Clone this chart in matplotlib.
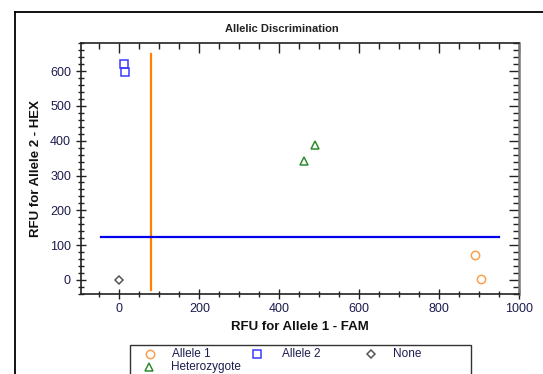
import numpy as np
import matplotlib
matplotlib.use("Agg")
import matplotlib.pyplot as plt
from matplotlib.lines import Line2D
from matplotlib.patches import Rectangle
from matplotlib.ticker import MultipleLocator

plt.rcParams['font.family'] = ['Liberation Sans', 'DejaVu Sans']

# calls
allele1_x = [890, 905]
allele1_y = [70, 3]
allele2_x = [12, 13]
allele2_y = [620, 598]
het_x = [463, 489]
het_y = [343, 388]
none_x = [0]
none_y = [0]

# threshold lines
thr_fam = 78
thr_hex = 122
hline_x = [-45, 950]
vline_y = [-28, 650]

legend_labels = ["Allele 1", "Allele 2", "None", "Heterozygote"]

c_a1 = '#f8a050'
c_a2 = '#3a3aff'
c_none = '#555555'
c_het = '#2e8b2e'
txt = '#1c1c50'

W, H = 543, 374
fig = plt.figure(figsize=(W/100, H/100), dpi=100)
ax = fig.add_axes([80.7/W, 1-293.7/H, (519-80.7)/W, (293.7-42.7)/H])

def fx(px):
    return px / W

def fy(py):
    return 1 - py / H

# outer frame (top and left edges visible)
fig.add_artist(Line2D([fx(15), 1.0], [fy(12), fy(12)], color='black', lw=1.3))
fig.add_artist(Line2D([fx(15), fx(15)], [fy(12), 0], color='black', lw=1.3))

ax.plot([thr_fam, thr_fam], vline_y, color='#ff8000', lw=1.6, zorder=2)
ax.plot(hline_x, [thr_hex, thr_hex], color='#0000ee', lw=1.6, zorder=2)

ms = 6
ax.plot(allele1_x, allele1_y, 'o', ms=ms, mfc='none', mec=c_a1, mew=1.1, ls='none')
ax.plot(allele2_x, allele2_y, 's', ms=ms, mfc='none', mec=c_a2, mew=1.1, ls='none')
ax.plot(het_x, het_y, '^', ms=ms, mfc='none', mec=c_het, mew=1.1, ls='none')
ax.plot(none_x, none_y, 'D', ms=4.5, mfc='none', mec=c_none, mew=1.1, ls='none')

ax.set_xlim(-97, 1000)
ax.set_ylim(-40, 682)
ax.xaxis.set_major_locator(MultipleLocator(200))
ax.xaxis.set_minor_locator(MultipleLocator(50))
ax.yaxis.set_major_locator(MultipleLocator(100))
ax.yaxis.set_minor_locator(MultipleLocator(20))

ax.tick_params(which='both', direction='inout', top=True, right=True,
               labelsize=9, labelcolor=txt, color='#222222')
ax.tick_params(which='major', length=7, width=1)
ax.tick_params(which='minor', length=4, width=1)
# top and right ticks point inward only
for t in ax.xaxis.get_major_ticks() + ax.xaxis.get_minor_ticks():
    t.tick2line.set_marker(3)
for t in ax.yaxis.get_major_ticks() + ax.yaxis.get_minor_ticks():
    t.tick2line.set_marker(0)
for s in ax.spines.values():
    s.set_linewidth(1.2)
    s.set_color('#222222')
ax.spines['right'].set_color('#777777')
ax.spines['right'].set_linewidth(1.8)

ax.set_xlabel("RFU for Allele 1 - FAM", fontsize=9.5, fontweight='bold', color='#111111', labelpad=4)
ax.set_ylabel("RFU for Allele 2 - HEX", fontsize=9.5, fontweight='bold', color='#111111', labelpad=6)
fig.text(fx(282), fy(29), "Allelic Discrimination", fontsize=8, fontweight='bold',
         color='#222222', ha='center', va='center')

# legend box, laid out like the instrument software (runs off the bottom)
fig.add_artist(Rectangle((fx(130), fy(380)), fx(471) - fx(130), fy(345) - fy(380),
                         transform=fig.transFigure, fill=False, ec='#333333', lw=1.0))
leg_items = [
    ('o', 6, c_a1, legend_labels[0], 150, 172, 354),
    ('s', 6, c_a2, legend_labels[1], 257, 282, 354),
    ('D', 4.5, c_none, legend_labels[2], 371, 393, 354),
    ('^', 6, c_het, legend_labels[3], 149, 171, 367),
]
for mk, size, col, lab, mx, tx, ty in leg_items:
    fig.add_artist(Line2D([fx(mx)], [fy(ty)], marker=mk, ls='none', ms=size,
                          mfc='none', mec=col, mew=1.1))
    fig.text(fx(tx), fy(ty), lab, fontsize=8.5, color=txt, ha='left', va='center')

fig.savefig("out.png", dpi=100)
